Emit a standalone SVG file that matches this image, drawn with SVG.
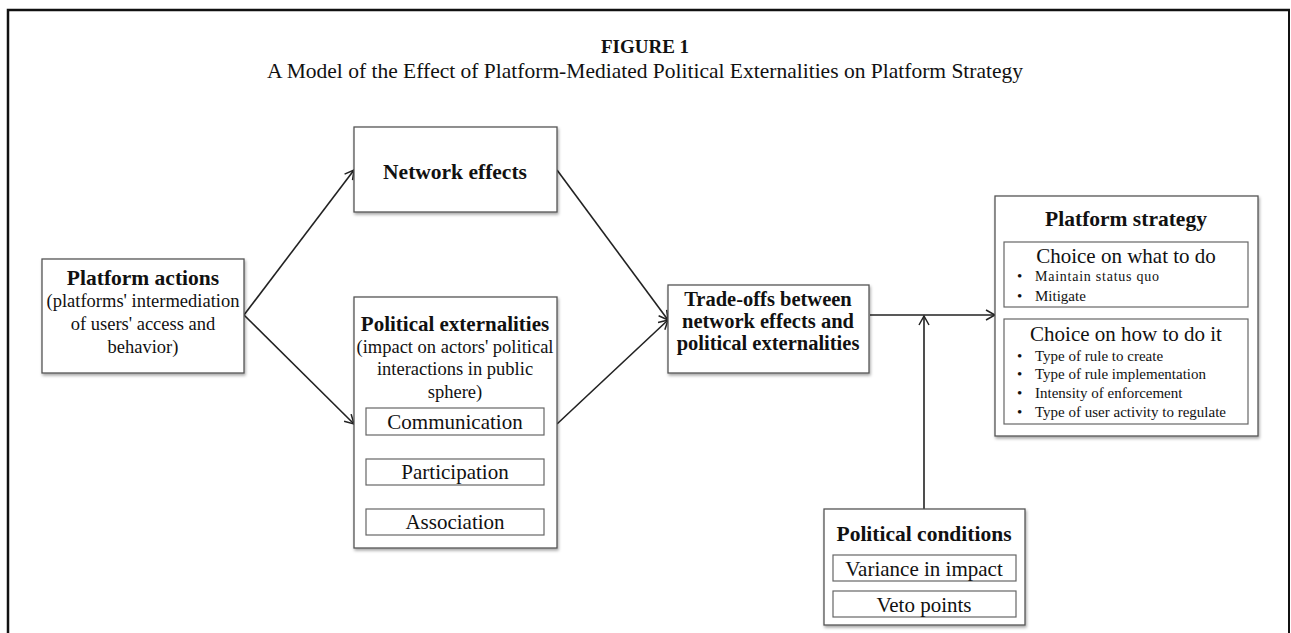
<svg xmlns="http://www.w3.org/2000/svg" width="1291" height="633" viewBox="0 0 1291 633">
<style>
text{font-family:"Liberation Serif","Times New Roman",serif;fill:#111;text-anchor:middle}
.b{font-weight:bold}
.box{fill:#fff;stroke:#555;stroke-width:1.3;filter:url(#sh)}
.sub{fill:#fff;stroke:#666;stroke-width:1.2}
.c{stroke:#222;stroke-width:1.6;fill:none;marker-end:url(#ah)}
.bl{text-anchor:start;font-size:15px}
</style>
<defs>
<filter id="sh" x="-5%" y="-5%" width="110%" height="115%">
<feDropShadow dx="1" dy="2" stdDeviation="1.5" flood-color="#000" flood-opacity="0.35"/>
</filter>
<marker id="ah" markerWidth="12" markerHeight="12" refX="10" refY="6" orient="auto" markerUnits="userSpaceOnUse">
<path d="M1,1 L10,6 L1,11" fill="none" stroke="#222" stroke-width="1.5"/>
</marker>
</defs>
<rect width="1291" height="633" fill="#fff"/>
<path d="M8,640 L8,10 L1290,10" fill="none" stroke="#111" stroke-width="2.5"/>
<path d="M1289,10 L1289,640" fill="none" stroke="#111" stroke-width="2"/>
<text class="b" x="645" y="53" font-size="19">FIGURE 1</text>
<text x="645" y="78" font-size="21.5">A Model of the Effect of Platform-Mediated Political Externalities on Platform Strategy</text>

<g id="connectors">
<path class="c" d="M244,315 L354,170"/>
<path class="c" d="M244,315 L354,424"/>
<path class="c" d="M557,170 L668,320"/>
<path class="c" d="M557,424 L668,320"/>
<path class="c" d="M870,315 L995,315"/>
<path class="c" d="M924,509 L924,316"/>
</g>

<g id="platform-actions">
<rect class="box" x="42" y="259" width="202" height="114"/>
<text class="b" x="143" y="285" font-size="21.5">Platform actions</text>
<text x="143" y="307" font-size="18.5">(platforms' intermediation</text>
<text x="143" y="330" font-size="18.5">of users' access and</text>
<text x="143" y="353" font-size="18.5">behavior)</text>
</g>

<g id="network-effects">
<rect class="box" x="354" y="127" width="203" height="85"/>
<text class="b" x="455" y="179" font-size="21.5">Network effects</text>
</g>

<g id="political-externalities">
<rect class="box" x="354" y="297" width="203" height="251"/>
<text class="b" x="455" y="331" font-size="21">Political externalities</text>
<text x="455" y="353" font-size="18.5">(impact on actors' political</text>
<text x="455" y="375" font-size="18.5">interactions in public</text>
<text x="455" y="398" font-size="18.5">sphere)</text>
<rect class="sub" x="366" y="408" width="178" height="27"/>
<text x="455" y="429" font-size="21">Communication</text>
<rect class="sub" x="366" y="459" width="178" height="26"/>
<text x="455" y="479" font-size="21">Participation</text>
<rect class="sub" x="366" y="509" width="178" height="26"/>
<text x="455" y="529" font-size="21">Association</text>
</g>

<g id="trade-offs">
<rect class="box" x="668" y="285" width="201" height="88"/>
<text class="b" x="768" y="306" font-size="20.5">Trade-offs between</text>
<text class="b" x="768" y="328" font-size="20.5">network effects and</text>
<text class="b" x="768" y="350" font-size="20.5">political externalities</text>
</g>

<g id="platform-strategy">
<rect class="box" x="995" y="196" width="263" height="240"/>
<text class="b" x="1126" y="226" font-size="21.5">Platform strategy</text>
<rect class="sub" x="1004" y="242" width="244" height="65"/>
<text x="1126" y="263" font-size="21">Choice on what to do</text>
<text class="bl" x="1017" y="281" font-size="14">•</text>
<text class="bl" x="1035" y="281" style="font-size:14px" textLength="124" lengthAdjust="spacing">Maintain status quo</text>
<text class="bl" x="1017" y="301">•</text>
<text class="bl" x="1035" y="301">Mitigate</text>
<rect class="sub" x="1004" y="319" width="244" height="105"/>
<text x="1126" y="341" font-size="21">Choice on how to do it</text>
<text class="bl" x="1017" y="361">•</text>
<text class="bl" x="1035" y="361">Type of rule to create</text>
<text class="bl" x="1017" y="379">•</text>
<text class="bl" x="1035" y="379">Type of rule implementation</text>
<text class="bl" x="1017" y="398">•</text>
<text class="bl" x="1035" y="398">Intensity  of enforcement</text>
<text class="bl" x="1017" y="417">•</text>
<text class="bl" x="1035" y="417">Type of user activity to regulate</text>
</g>

<g id="political-conditions">
<rect class="box" x="824" y="509" width="201" height="116"/>
<text class="b" x="924" y="541" font-size="21.5">Political conditions</text>
<rect class="sub" x="833" y="555" width="183" height="26"/>
<text x="924" y="576" font-size="21">Variance in impact</text>
<rect class="sub" x="833" y="591" width="183" height="26"/>
<text x="924" y="612" font-size="21">Veto points</text>
</g>
</svg>
